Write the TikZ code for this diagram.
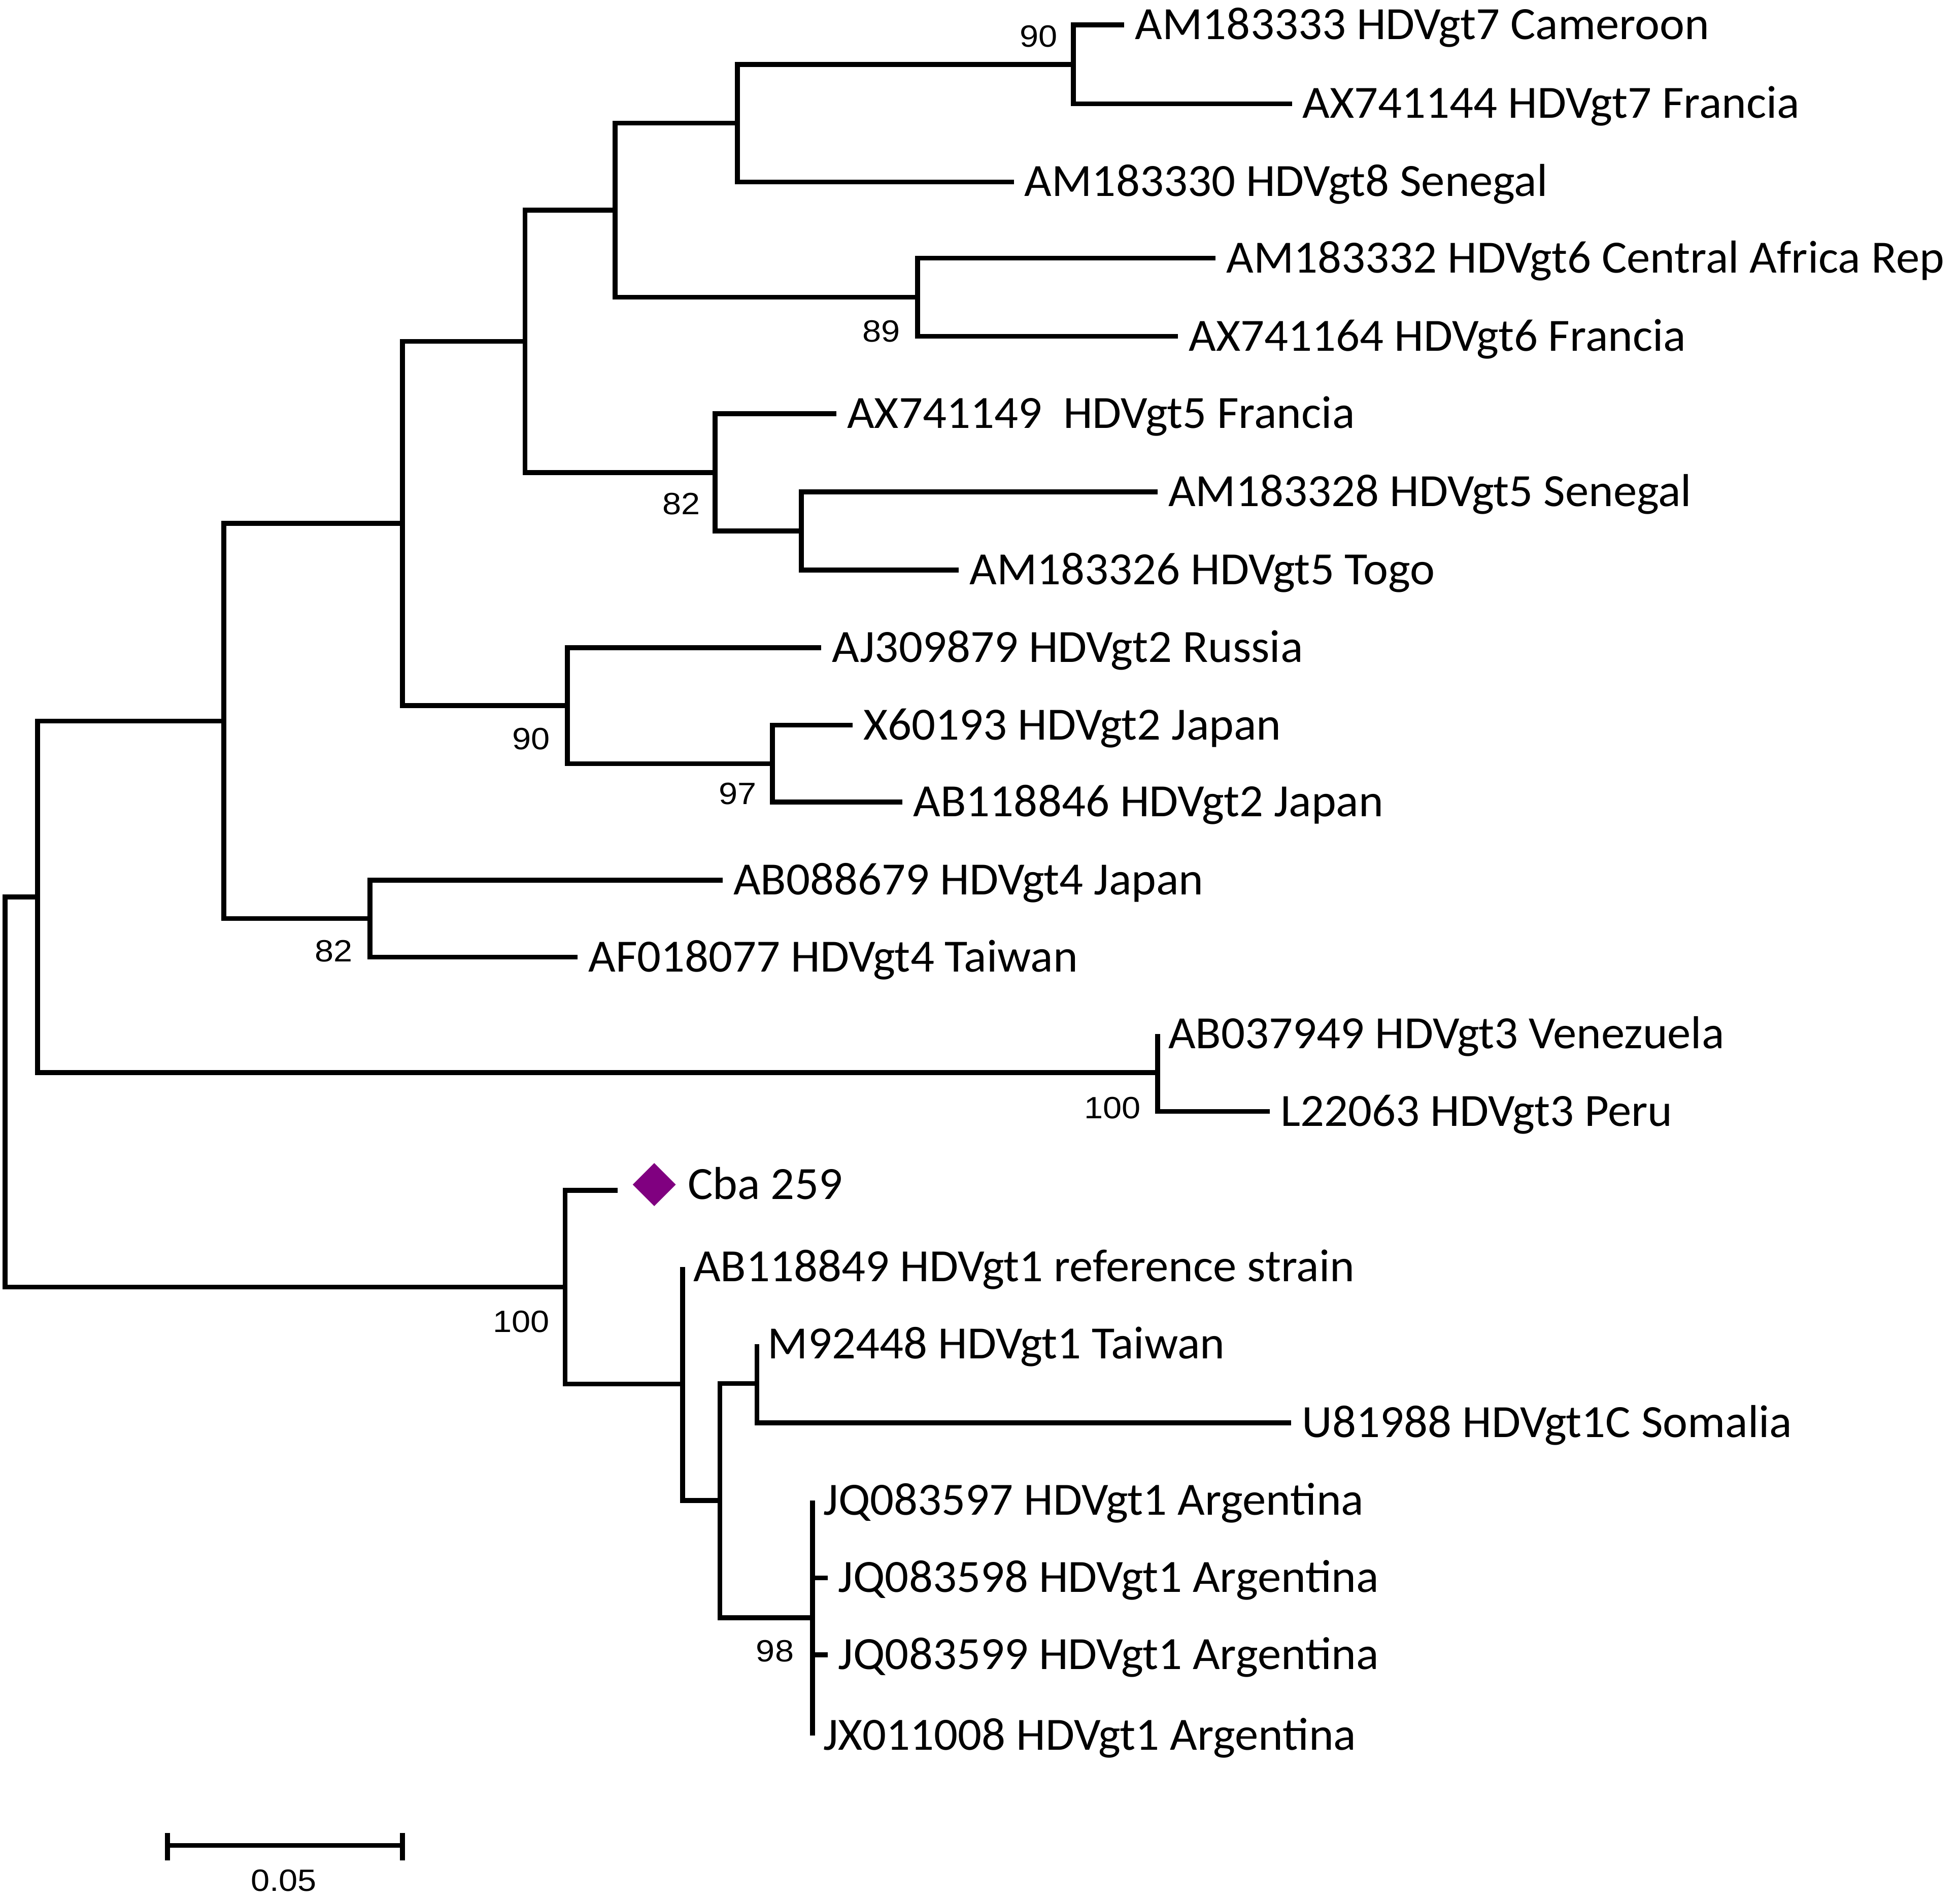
\documentclass[tikz,border=0pt]{standalone}
\usepackage{fontspec}
\setmainfont{Carlito}[FakeStretch=1.02]
\newfontfamily\bootfont{Liberation Sans}[FakeStretch=1.1]
\usetikzlibrary{shapes.geometric, positioning}
\definecolor{cbapurple}{RGB}{128,0,128}
\tikzset{
  branch/.style={line width=1.1pt},
  leaf/.style={anchor=west, inner xsep=0.08cm, inner ysep=0pt, text height=6.6pt, text depth=0pt, font=\fontsize{10.5}{12}\selectfont},
  boot/.style={inner sep=0pt, font=\bootfont\fontsize{7}{8}\selectfont},
  cbamark/.style={diamond, fill=cbapurple, inner sep=0pt, minimum size=0.35cm}
}
\begin{document}
\begin{tikzpicture}[x=0.01cm, y=-0.01cm]
        \useasboundingbox (0,0) rectangle (1568,1519.7);

        %nodes
        \coordinate (root) at (4, 873.2);
        \coordinate (nA) at (30, 717.4);
        \coordinate (n245678) at (179, 576.7);
        \coordinate (n25678) at (322, 418.7);
        \coordinate (n5678) at (420, 273);
        \coordinate (n678) at (492, 168.1);
        \coordinate (n78) at (590, 98.5);
        \coordinate (n7) at (858.6, 51.5);
        \coordinate (n6) at (734, 237.75);
        \coordinate (n5) at (572, 377.9);
        \coordinate (n5b) at (641, 424.75);
        \coordinate (n2) at (454, 564.4);
        \coordinate (n2b) at (618, 610.75);
        \coordinate (n4) at (296, 734.75);
        \coordinate (n3) at (926, 858);
        \coordinate (n1) at (452, 1029.5);
        \coordinate (n1b) at (546, 1106.9);
        \coordinate (n1d) at (576, 1200.25);
        \coordinate (n1c) at (605.5, 1106.5);
        \coordinate (n1arg) at (650, 1294);

        \node[leaf] (l1) at (899.5, 20) {AM183333 HDVgt7 Cameroon};
        \node[leaf] (l2) at (1033.5, 83) {AX741144 HDVgt7 Francia};
        \node[leaf] (l3) at (811, 145.5) {AM183330 HDVgt8 Senegal};
        \node[leaf] (l4) at (972.5, 206.5) {AM183332 HDVgt6 Central Africa Rep};
        \node[leaf] (l5) at (942.5, 269) {AX741164 HDVgt6 Francia};
        \node[leaf] (l6) at (669, 331) {AX741149\ \ HDVgt5 Francia};
        \node[leaf] (l7) at (926, 393.5) {AM183328 HDVgt5 Senegal};
        \node[leaf] (l8) at (767, 456) {AM183326 HDVgt5 Togo};
        \node[leaf] (l9) at (657, 518) {AJ309879 HDVgt2 Russia};
        \node[leaf] (l10) at (682, 580) {X60193 HDVgt2 Japan};
        \node[leaf] (l11) at (722, 641.5) {AB118846 HDVgt2 Japan};
        \node[leaf] (l12) at (578, 704) {AB088679 HDVgt4 Japan};
        \node[leaf] (l13) at (462, 765.5) {AF018077 HDVgt4 Taiwan};
        \node[leaf] (l14) at (926, 827) {AB037949 HDVgt3 Venezuela};
        \node[leaf] (l15) at (1016, 889) {L22063 HDVgt3 Peru};
        \coordinate (c16) at (494, 952);
        \node[cbamark] (cba) at (523.4, 947.5) {};
        \node[leaf, right=0pt of cba] (l16) {Cba 259};
        \node[leaf] (l17) at (546, 1013.5) {AB118849 HDVgt1 reference strain};
        \node[leaf] (l18) at (605.5, 1075) {M92448 HDVgt1 Taiwan};
        \node[leaf] (l19) at (1033, 1138) {U81988 HDVgt1C Somalia};
        \node[leaf] (l20) at (650, 1200) {JQ083597 HDVgt1 Argentina};
        \node[leaf] (l21) at (662, 1262) {JQ083598 HDVgt1 Argentina};
        \node[leaf] (l22) at (662, 1323.5) {JQ083599 HDVgt1 Argentina};
        \node[leaf] (l23) at (650, 1388) {JX011008 HDVgt1 Argentina};

        %bootstrap values
        \node[boot] (b7) at (831, 29) {90};
        \node[boot] (b6) at (705, 265) {89};
        \node[boot] (b5) at (545, 403) {82};
        \node[boot] (b2) at (425, 591) {90};
        \node[boot] (b2b) at (590, 635) {97};
        \node[boot] (b4) at (267, 760.6) {82};
        \node[boot] (b3) at (890, 886) {100};
        \node[boot] (b1) at (417, 1057) {100};
        \node[boot] (b1arg) at (620, 1320.7) {98};

        %edges
        \draw[branch] (n7) |- (l1.west);
        \draw[branch] (n7) |- (l2.west);
        \draw[branch] (n78) |- (n7);
        \draw[branch] (n78) |- (l3.west);
        \draw[branch] (n6) |- (l4.west);
        \draw[branch] (n6) |- (l5.west);
        \draw[branch] (n678) |- (n78);
        \draw[branch] (n678) |- (n6);
        \draw[branch] (n5) |- (l6.west);
        \draw[branch] (n5) |- (n5b);
        \draw[branch] (n5b) |- (l7.west);
        \draw[branch] (n5b) |- (l8.west);
        \draw[branch] (n5678) |- (n678);
        \draw[branch] (n5678) |- (n5);
        \draw[branch] (n2) |- (l9.west);
        \draw[branch] (n2) |- (n2b);
        \draw[branch] (n2b) |- (l10.west);
        \draw[branch] (n2b) |- (l11.west);
        \draw[branch] (n25678) |- (n5678);
        \draw[branch] (n25678) |- (n2);
        \draw[branch] (n4) |- (l12.west);
        \draw[branch] (n4) |- (l13.west);
        \draw[branch] (n245678) |- (n25678);
        \draw[branch] (n245678) |- (n4);
        \draw[branch] (n3) |- (l14.west);
        \draw[branch] (n3) |- (l15.west);
        \draw[branch] (nA) |- (n245678);
        \draw[branch] (nA) |- (n3);
        \draw[branch] (n1c) |- (l18.west);
        \draw[branch] (n1c) |- (l19.west);
        \draw[branch] (n1arg) |- (l20.west);
        \draw[branch] (n1arg) |- (l21.west);
        \draw[branch] (n1arg) |- (l22.west);
        \draw[branch] (n1arg) |- (l23.west);
        \draw[branch] (n1d) |- (n1c);
        \draw[branch] (n1d) |- (n1arg);
        \draw[branch] (n1b) |- (l17.west);
        \draw[branch] (n1b) |- (n1d);
        \draw[branch] (n1) |- (c16);
        \draw[branch] (n1) |- (n1b);
        \draw[branch] (root) |- (nA);
        \draw[branch] (root) |- (n1);

        %scale bar
        \coordinate (sb1) at (134, 1476);
        \coordinate (sb2) at (322, 1476);
        \draw[branch] (sb1) -- (sb2);
        \draw[branch] ([yshift=0.1cm]sb1) -- ([yshift=-0.12cm]sb1);
        \draw[branch] ([yshift=0.1cm]sb2) -- ([yshift=-0.12cm]sb2);
        \node[boot] (sblabel) at (227, 1504) {0.05};
    \end{tikzpicture}
\end{document}
